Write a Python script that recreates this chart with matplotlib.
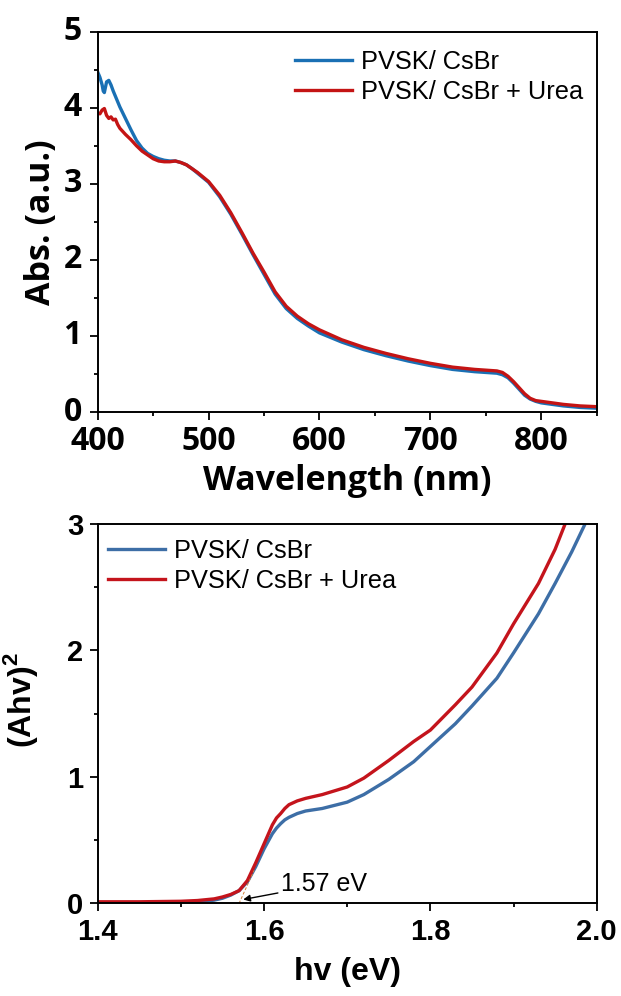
import matplotlib
matplotlib.use("Agg")
import matplotlib.pyplot as plt
from matplotlib.ticker import MultipleLocator, FormatStrFormatter

# ---- Top panel data: absorbance ----
wl_blue = [400, 402, 404, 405, 406, 408, 410, 412, 414, 416, 420, 425, 430, 435, 440, 445, 450, 455, 460, 465, 470,
           475, 480, 485, 490, 495, 500, 510, 520, 530, 540, 550, 560, 570, 580, 590, 600, 620, 640, 660, 680,
           700, 720, 740, 750, 760, 765, 770, 775, 780, 785, 790, 795, 800, 810, 820, 835, 850]
abs_blue = [4.47, 4.40, 4.30, 4.22, 4.20, 4.34, 4.36, 4.30, 4.22, 4.15, 4.01, 3.86, 3.71, 3.57, 3.47, 3.40, 3.36, 3.33,
            3.31, 3.30, 3.30, 3.28, 3.25, 3.20, 3.14, 3.08, 3.02, 2.83, 2.60, 2.34, 2.07, 1.81, 1.55, 1.36, 1.23,
            1.13, 1.04, 0.92, 0.82, 0.74, 0.67, 0.61, 0.56, 0.53, 0.52, 0.51, 0.49, 0.45, 0.38, 0.30, 0.22, 0.17,
            0.14, 0.12, 0.10, 0.08, 0.06, 0.05]
wl_red = [400, 402, 404, 406, 408, 410, 412, 414, 416, 418, 420, 425, 430, 435, 440, 445, 450, 455, 460, 465, 470,
          475, 480, 485, 490, 495, 500, 510, 520, 530, 540, 550, 560, 570, 580, 590, 600, 620, 640, 660, 680,
          700, 720, 740, 750, 760, 765, 770, 775, 780, 785, 790, 795, 800, 810, 820, 835, 850]
abs_red = [3.93, 3.92, 3.97, 3.99, 3.90, 3.86, 3.88, 3.84, 3.85, 3.78, 3.73, 3.65, 3.58, 3.50, 3.43, 3.38, 3.33, 3.30,
           3.29, 3.29, 3.30, 3.28, 3.25, 3.20, 3.15, 3.09, 3.03, 2.85, 2.62, 2.36, 2.09, 1.84, 1.58, 1.39, 1.26,
           1.16, 1.08, 0.95, 0.85, 0.77, 0.70, 0.64, 0.59, 0.56, 0.55, 0.54, 0.52, 0.47, 0.40, 0.32, 0.24, 0.18,
           0.15, 0.14, 0.12, 0.10, 0.08, 0.07]

# ---- Bottom panel data: Tauc plot ----
ev_blue = [1.40, 1.45, 1.50, 1.52, 1.54, 1.55, 1.56, 1.57, 1.58, 1.59, 1.60, 1.61, 1.615, 1.62, 1.625, 1.63, 1.64,
           1.65, 1.67, 1.70, 1.72, 1.75, 1.78, 1.80, 1.83, 1.85, 1.88, 1.90, 1.93, 1.95, 1.97, 1.986]
tauc_blue = [0.0, 0.0, 0.005, 0.01, 0.025, 0.04, 0.065, 0.10, 0.17, 0.29, 0.43, 0.55, 0.595, 0.63, 0.66, 0.68, 0.71,
             0.73, 0.75, 0.80, 0.86, 0.98, 1.12, 1.24, 1.42, 1.56, 1.78, 1.98, 2.29, 2.53, 2.78, 3.0]
ev_red = [1.40, 1.45, 1.50, 1.52, 1.54, 1.55, 1.56, 1.57, 1.58, 1.59, 1.60, 1.61, 1.615, 1.62, 1.625, 1.63, 1.64,
          1.65, 1.67, 1.70, 1.72, 1.75, 1.78, 1.80, 1.83, 1.85, 1.88, 1.90, 1.93, 1.95, 1.962]
tauc_red = [0.012, 0.012, 0.016, 0.022, 0.035, 0.05, 0.07, 0.10, 0.18, 0.32, 0.47, 0.62, 0.675, 0.71, 0.75, 0.78,
            0.81, 0.83, 0.86, 0.92, 0.99, 1.13, 1.28, 1.37, 1.57, 1.71, 1.98, 2.21, 2.53, 2.80, 3.0]

labels = ["PVSK/ CsBr", "PVSK/ CsBr + Urea"]
gap_label = "1.57 eV"

top_blue = "#1a70b4"
top_red = "#c41414"
bot_blue = "#3d6ea6"
bot_red = "#c4141c"

W, H = 621, 996
fig = plt.figure(figsize=(W / 100, H / 100), dpi=100)

# ---------------- Top ----------------
ax1 = fig.add_axes([97.7 / W, 1 - 412 / H, (596.7 - 97.7) / W, (412 - 31.7) / H])
ax1.plot(wl_blue, abs_blue, color=top_blue, lw=2.4, label=labels[0])
ax1.plot(wl_red, abs_red, color=top_red, lw=2.4, label=labels[1])
ax1.set_xlim(400, 850)
ax1.set_ylim(0, 5)
ax1.xaxis.set_major_locator(MultipleLocator(100))
ax1.xaxis.set_minor_locator(MultipleLocator(50))
ax1.yaxis.set_major_locator(MultipleLocator(1))
ax1.yaxis.set_minor_locator(MultipleLocator(0.5))
ax1.tick_params(which="both", direction="out", width=1.3, top=False, right=False)
ax1.tick_params(which="major", length=5.5)
ax1.tick_params(which="minor", length=3)
ax1.tick_params(axis="x", which="major", pad=4)
ax1.tick_params(axis="y", which="major", pad=6)
for lab in ax1.get_xticklabels() + ax1.get_yticklabels():
    lab.set_fontfamily("Open Sans")
    lab.set_fontweight("bold")
    lab.set_fontsize(23)
for lab in ax1.get_yticklabels():
    lab.set_verticalalignment("baseline")
    lab.set_y(lab.get_position()[1])
ax1.set_xlabel("Wavelength (nm)", fontfamily="Open Sans", fontweight="bold", fontsize=24.5, labelpad=4)
ax1.set_ylabel("Abs. (a.u.)", fontfamily="Open Sans", fontweight="bold", fontsize=24.5, labelpad=4)
for s in ax1.spines.values():
    s.set_linewidth(1.4)
ax1.legend(loc="upper left", frameon=False, prop={"family": "Liberation Sans", "size": 18.3},
           handlelength=2.25, handletextpad=0.35, labelspacing=0.22, borderaxespad=0.0,
           bbox_to_anchor=((285 - 97.7) / 499, 1 - (40 - 31.7) / 380.3))

# y tick labels: put the digit baseline ~10 px below the tick so digits sit centred on it
from matplotlib.transforms import ScaledTranslation
offset = ScaledTranslation(0, -8.5 / 100, fig.dpi_scale_trans)
for lab in ax1.get_yticklabels():
    lab.set_transform(lab.get_transform() + offset)

# ---------------- Bottom ----------------
ax2 = fig.add_axes([97.7 / W, 1 - 903.3 / H, (596.7 - 97.7) / W, (903.3 - 524) / H])
ax2.plot(ev_blue, tauc_blue, color=bot_blue, lw=2.4, label=labels[0])
ax2.plot(ev_red, tauc_red, color=bot_red, lw=2.4, label=labels[1])
# tangent line for band gap
ax2.plot([1.57, 1.588], [0.0, 0.26], color="#d0803a", lw=0.7, ls=(0, (3, 2)))
ax2.annotate(gap_label, xy=(1.575, 0.03), xytext=(1.62, 0.15),
             fontsize=18, fontfamily="Liberation Sans", va="center", ha="left",
             arrowprops=dict(arrowstyle="-|>", color="black", lw=1.0, mutation_scale=10,
                             shrinkA=0, shrinkB=0))
ax2.set_xlim(1.4, 2.0)
ax2.set_ylim(0, 3)
ax2.xaxis.set_major_locator(MultipleLocator(0.2))
ax2.xaxis.set_minor_locator(MultipleLocator(0.1))
ax2.yaxis.set_major_locator(MultipleLocator(1))
ax2.yaxis.set_minor_locator(MultipleLocator(0.5))
ax2.xaxis.set_major_formatter(FormatStrFormatter("%.1f"))
ax2.yaxis.set_major_formatter(FormatStrFormatter("%d"))
ax2.tick_params(which="both", direction="out", width=1.3, top=False, right=False)
ax2.tick_params(which="major", length=5.5)
ax2.tick_params(which="minor", length=3)
ax2.tick_params(axis="x", which="major", pad=5)
ax2.tick_params(axis="y", which="major", pad=5)
for lab in ax2.get_xticklabels() + ax2.get_yticklabels():
    lab.set_fontfamily("Liberation Sans")
    lab.set_fontweight("bold")
    lab.set_fontsize(21)
ax2.set_xlabel("hv (eV)", fontfamily="Liberation Sans", fontweight="bold", fontsize=23, labelpad=8)
ax2.set_ylabel("(Ahv)$^{\\mathregular{2}}$", fontfamily="Liberation Sans", fontweight="bold", fontsize=23)
ax2.yaxis.set_label_coords(-(97.7 - 40) / 499, (903.3 - 700) / 379.3)
for s in ax2.spines.values():
    s.set_linewidth(1.4)
ax2.legend(loc="upper left", frameon=False, prop={"family": "Liberation Sans", "size": 18.3},
           handlelength=2.25, handletextpad=0.35, labelspacing=0.22, borderaxespad=0.0,
           bbox_to_anchor=((98 - 97.7) / 499, 1 - (529 - 524) / 379.3))

fig.savefig("out.png", dpi=100)
